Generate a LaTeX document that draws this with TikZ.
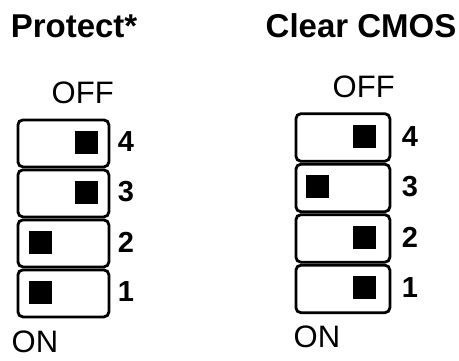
\documentclass[tikz,border=0pt]{standalone}
\usepackage{fontspec}
\setmainfont{Liberation Sans}
\begin{document}
\begin{tikzpicture}[x=1pt,y=-1pt,
  swbox/.style={draw, line width=2.8pt, rounded corners=5pt, inner sep=0pt, anchor=north west, minimum width=#1},
  knob/.style={fill=black, minimum size=23pt, inner sep=0pt},
  titletext/.style={font=\fontsize{33}{36}\selectfont\bfseries, anchor=base west, inner sep=0pt},
  lab/.style={font=\fontsize{31}{34}\selectfont, anchor=base west, inner sep=0pt},
  num/.style={font=\fontsize{29}{32}\selectfont\bfseries, inner sep=0pt},
]
\useasboundingbox (0,0) rectangle (459,360);
% titles
\node[titletext] (t1) at (10.6,37) {Protect*};
\node[titletext] (t2) at (265.5,37) {Clear CMOS};
% left switch
\node[lab] (offL) at (51.5,103) {OFF};
\node[lab] (onL) at (11.5,352) {ON};
\foreach \i/\y/\kx in {4/118.5/86.5, 3/168.5/86.5, 2/218.5/40.5, 1/268.5/40.5}{
  \node[swbox=91pt, minimum height=47pt] (L\i) at (16.5,\y) {};
  \node[knob] (kL\i) at (\kx,\y+23.5) {};
  \node[num] (nL\i) at (126,\y+23.5) {\i};
}
% right switch
\node[lab] (offR) at (332.5,97) {OFF};
\node[lab] (onR) at (293.5,347) {ON};
\foreach \i/\y/\kx in {4/112.3/364.5, 3/162.8/317.5, 2/213.3/364.5, 1/263.8/364.5}{
  \node[swbox=94pt, minimum height=47.5pt] (R\i) at (294.5,\y) {};
  \node[knob] (kR\i) at (\kx,\y+23.75) {};
  \node[num] (nR\i) at (410,\y+23.75) {\i};
}
\end{tikzpicture}
\end{document}
